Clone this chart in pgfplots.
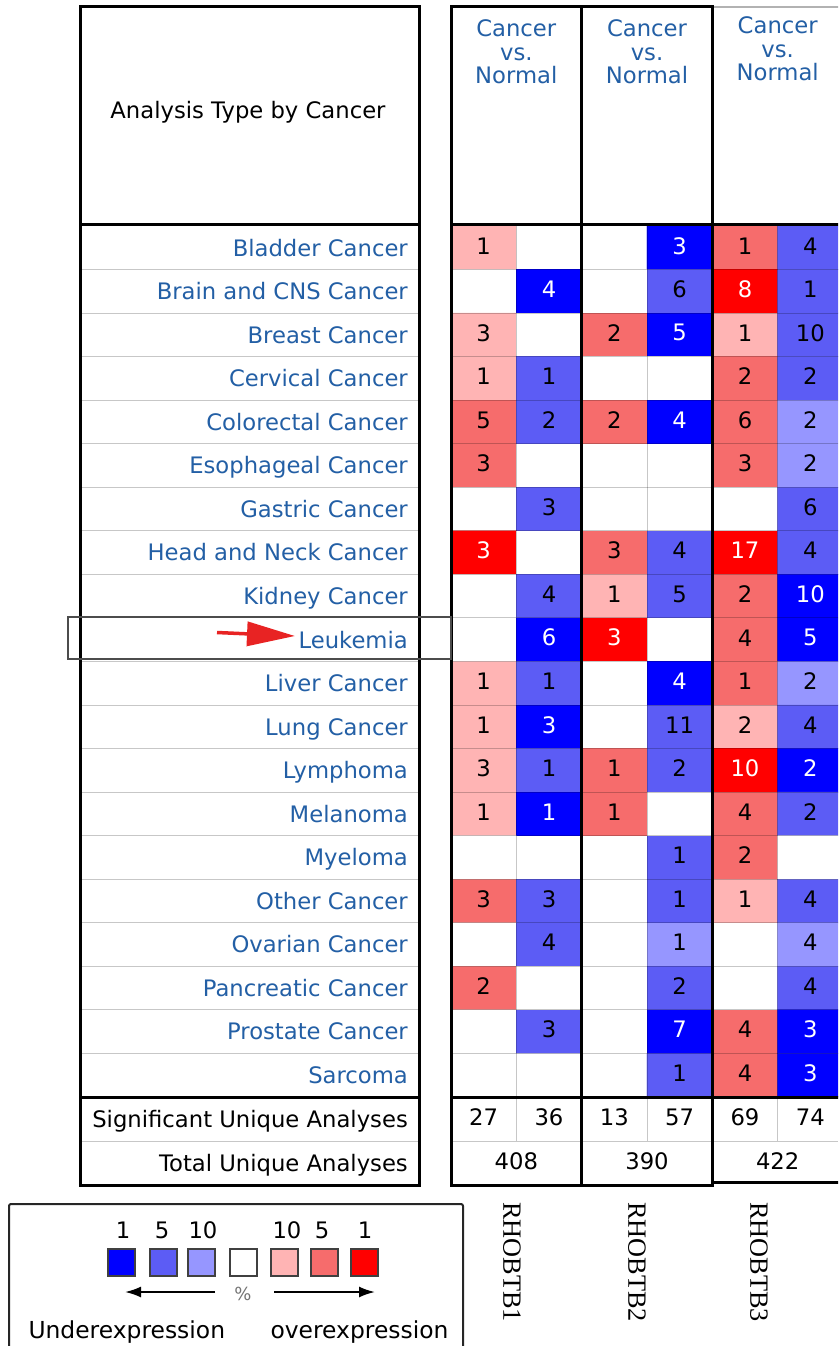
\documentclass[border=0pt]{standalone}
\usepackage{pgfplots}
\pgfplotsset{compat=1.18}
\usepackage{pgfplotstable}
\usepackage{fontspec}
\setmainfont{DejaVu Sans}
\newfontfamily\genefont{Liberation Serif}
\usetikzlibrary{arrows.meta}
\definecolor{dblue}{RGB}{0,0,255}
\definecolor{mblue}{RGB}{92,92,245}
\definecolor{lblue}{RGB}{150,150,255}
\definecolor{lred}{RGB}{255,180,180}
\definecolor{mred}{RGB}{246,108,108}
\definecolor{dred}{RGB}{255,0,0}
\definecolor{linkblue}{RGB}{35,95,165}
\definecolor{arrowred}{RGB}{232,35,35}

% level: 0 dark blue, 1 medium blue, 2 light blue, 3 white, 4 light red, 5 medium red, 6 dark red
\pgfplotstableread{
c r lvl
0 0 4
1 0 3
2 0 3
3 0 0
4 0 5
5 0 1
0 1 3
1 1 0
2 1 3
3 1 1
4 1 6
5 1 1
0 2 4
1 2 3
2 2 5
3 2 0
4 2 4
5 2 1
0 3 4
1 3 1
2 3 3
3 3 3
4 3 5
5 3 1
0 4 5
1 4 1
2 4 5
3 4 0
4 4 5
5 4 2
0 5 5
1 5 3
2 5 3
3 5 3
4 5 5
5 5 2
0 6 3
1 6 1
2 6 3
3 6 3
4 6 3
5 6 1
0 7 6
1 7 3
2 7 5
3 7 1
4 7 6
5 7 1
0 8 3
1 8 1
2 8 4
3 8 1
4 8 5
5 8 0
0 9 3
1 9 0
2 9 6
3 9 3
4 9 5
5 9 0
0 10 4
1 10 1
2 10 3
3 10 0
4 10 5
5 10 2
0 11 4
1 11 0
2 11 3
3 11 1
4 11 4
5 11 1
0 12 4
1 12 1
2 12 5
3 12 1
4 12 6
5 12 0
0 13 4
1 13 0
2 13 5
3 13 3
4 13 5
5 13 1
0 14 3
1 14 3
2 14 3
3 14 1
4 14 5
5 14 3
0 15 5
1 15 1
2 15 3
3 15 1
4 15 4
5 15 1
0 16 3
1 16 1
2 16 3
3 16 2
4 16 3
5 16 2
0 17 5
1 17 3
2 17 3
3 17 1
4 17 3
5 17 1
0 18 3
1 18 1
2 18 3
3 18 0
4 18 5
5 18 0
0 19 3
1 19 3
2 19 3
3 19 1
4 19 5
5 19 0
}\heat

\pgfplotstableread{
c r n
0 0 1
4 0 1
5 0 4
3 1 6
5 1 1
0 2 3
2 2 2
4 2 1
5 2 10
0 3 1
1 3 1
4 3 2
5 3 2
0 4 5
1 4 2
2 4 2
4 4 6
5 4 2
0 5 3
4 5 3
5 5 2
1 6 3
5 6 6
2 7 3
3 7 4
5 7 4
1 8 4
2 8 1
3 8 5
4 8 2
4 9 4
0 10 1
1 10 1
4 10 1
5 10 2
0 11 1
3 11 11
4 11 2
5 11 4
0 12 3
1 12 1
2 12 1
3 12 2
0 13 1
2 13 1
4 13 4
5 13 2
3 14 1
4 14 2
0 15 3
1 15 3
3 15 1
4 15 1
5 15 4
1 16 4
3 16 1
5 16 4
0 17 2
3 17 2
5 17 4
1 18 3
4 18 4
3 19 1
4 19 4
}\numsBlack

\pgfplotstableread{
c r n
3 0 3
1 1 4
4 1 8
3 2 5
3 4 4
0 7 3
4 7 17
5 8 10
1 9 6
2 9 3
5 9 5
3 10 4
1 11 3
4 12 10
5 12 2
1 13 1
3 18 7
5 18 3
5 19 3
}\numsWhite

\pgfplotstableread{
c n
0 27
1 36
2 13
3 57
4 69
5 74
}\sigs

\pgfplotstableread{
x n
516.3 408
647.0 390
777.7 422
}\totals

\begin{document}
\begin{tikzpicture}[font=\fontsize{22.7}{27}\selectfont]
\begin{axis}[
  x=1pt, y=1pt, y dir=reverse,
  xmin=0, xmax=838, ymin=0, ymax=1346,
  axis line style={draw=none},
  tick style={draw=none},
  major tick length=0pt,
  xtick=\empty,
  ytick={247.78,291.33,334.88,378.43,421.98,465.53,509.08,552.63,596.18,639.73,683.28,726.83,770.38,813.93,857.48,901.03,944.58,988.13,1031.68,1075.23},
  yticklabels={Bladder Cancer,Brain and CNS Cancer,Breast Cancer,Cervical Cancer,Colorectal Cancer,Esophageal Cancer,Gastric Cancer,Head and Neck Cancer,Kidney Cancer,Leukemia,Liver Cancer,Lung Cancer,Lymphoma,Melanoma,Myeloma,Other Cancer,Ovarian Cancer,Pancreatic Cancer,Prostate Cancer,Sarcoma},
  yticklabel style={anchor=base east, inner sep=0pt, xshift=408pt, yshift=-8.3pt, text=linkblue},
  extra y ticks={1119,1163},
  extra y tick labels={Significant Unique Analyses,Total Unique Analyses},
  extra y tick style={yticklabel style={text=black}},
  clip=true,
  colormap={onco}{rgb255=(0,0,255) rgb255=(92,92,245) rgb255=(150,150,255) rgb255=(255,255,255) rgb255=(255,180,180) rgb255=(246,108,108) rgb255=(255,0,0)},
  numstyle/.style={only marks, mark=none, point meta=explicit symbolic,
    nodes near coords, nodes near coords align=center,
    every node near coord/.append style={anchor=center, inner sep=0pt, yshift=2pt, font=\fontsize{22.7}{27}\selectfont}},
]
\path (axis cs:0,0) rectangle (axis cs:838,1346);

% heatmap cells
\addplot[matrix plot*, mesh/cols=6, point meta=explicit, colormap access=direct]
  table[x expr=451+65.33*(\thisrow{c}+0.5), y expr=226+43.55*(\thisrow{r}+0.5), meta=lvl] {\heat};

% thin grid lines
\pgfplotsinvokeforeach{1,...,19}{
  \draw[black, opacity=0.22, line width=1pt] (axis cs:80,{226+43.55*#1}) -- (axis cs:419,{226+43.55*#1});
  \draw[black, opacity=0.22, line width=1pt] (axis cs:451,{226+43.55*#1}) -- (axis cs:838,{226+43.55*#1});
}
\pgfplotsinvokeforeach{516.3,647,777.7}{
  \draw[black, opacity=0.22, line width=1pt] (axis cs:#1,226) -- (axis cs:#1,1141);
}
\draw[black, opacity=0.22, line width=1pt] (axis cs:80,1141) -- (axis cs:419,1141);
\draw[black, opacity=0.22, line width=1pt] (axis cs:451,1141) -- (axis cs:838,1141);
\draw[black, opacity=0.3, line width=1.5pt] (axis cs:712.3,7) -- (axis cs:840,7);

% thick borders, left table
\draw[line width=3pt] (axis cs:80,7) rectangle (axis cs:419,224);
\draw[line width=3pt] (axis cs:80,224) rectangle (axis cs:419,1097);
\draw[line width=3pt] (axis cs:80,1097) rectangle (axis cs:419,1185);
% thick borders, right table
\draw[line width=3pt] (axis cs:451,7) -- (axis cs:712.3,7);
\draw[line width=3pt] (axis cs:451,224) -- (axis cs:840,224);
\draw[line width=3pt] (axis cs:451,1097) -- (axis cs:840,1097);
\draw[line width=3pt] (axis cs:451,1185) -- (axis cs:712.3,1185);
\draw[line width=3pt] (axis cs:712.3,1182) -- (axis cs:840,1182);
\draw[line width=3pt] (axis cs:451,5.5) -- (axis cs:451,1186.5);
\draw[line width=3pt] (axis cs:581.7,5.5) -- (axis cs:581.7,1186.5);
\draw[line width=3pt] (axis cs:712.3,5.5) -- (axis cs:712.3,1186.5);

% header texts
\node[anchor=base] at (axis cs:248,118) {Analysis Type by Cancer};
\pgfplotsinvokeforeach{516.3,647}{
  \node[anchor=base, text=linkblue] at (axis cs:#1,36.5) {Cancer};
  \node[anchor=base, text=linkblue] at (axis cs:#1,60) {vs.};
  \node[anchor=base, text=linkblue] at (axis cs:#1,83.5) {Normal};
}
\node[anchor=base, text=linkblue] at (axis cs:777.7,33.5) {Cancer};
\node[anchor=base, text=linkblue] at (axis cs:777.7,57) {vs.};
\node[anchor=base, text=linkblue] at (axis cs:777.7,80.5) {Normal};

% numbers in cells
\addplot[numstyle, every node near coord/.append style={text=black}]
  table[x expr=451+65.33*(\thisrow{c}+0.5), y expr=226+43.55*(\thisrow{r}+0.5), meta=n] {\numsBlack};
\addplot[numstyle, every node near coord/.append style={text=white}]
  table[x expr=451+65.33*(\thisrow{c}+0.5), y expr=226+43.55*(\thisrow{r}+0.5), meta=n] {\numsWhite};
% summary rows
\addplot[numstyle, every node near coord/.append style={text=black}]
  table[x expr=451+65.33*(\thisrow{c}+0.5), y expr=1119, meta=n] {\sigs};
\addplot[numstyle, every node near coord/.append style={text=black}]
  table[x=x, y expr=1163, meta=n] {\totals};

% highlight of Leukemia row
\draw[black!70, line width=1.2pt] (axis cs:68,617) rectangle (axis cs:451,659);
\draw[arrowred, line width=3.5pt, -{Triangle[length=48pt,width=24pt]}] (axis cs:217,632.5) -- (axis cs:295,636);

% legend
\draw[black!85, line width=2pt, rounded corners=2pt] (axis cs:9,1204) rectangle (axis cs:463,1362);
\begingroup
\fontsize{21}{25}\selectfont
\node[anchor=base] at (axis cs:123,1238) {1};
\node[anchor=base] at (axis cs:162,1238) {5};
\node[anchor=base] at (axis cs:203,1238) {10};
\node[anchor=base] at (axis cs:287,1238) {10};
\node[anchor=base] at (axis cs:322,1238) {5};
\node[anchor=base] at (axis cs:365,1238) {1};
\endgroup
\filldraw[fill=dblue, draw=black!75, line width=2pt] (axis cs:108,1249) rectangle (axis cs:135,1276);
\filldraw[fill=mblue, draw=black!75, line width=2pt] (axis cs:150,1249) rectangle (axis cs:177,1276);
\filldraw[fill=lblue, draw=black!75, line width=2pt] (axis cs:188,1249) rectangle (axis cs:215,1276);
\filldraw[fill=white, draw=black!75, line width=2pt] (axis cs:229.5,1249) rectangle (axis cs:256.5,1276);
\filldraw[fill=lred, draw=black!75, line width=2pt] (axis cs:270.5,1249) rectangle (axis cs:297.5,1276);
\filldraw[fill=mred, draw=black!75, line width=2pt] (axis cs:310.5,1249) rectangle (axis cs:337.5,1276);
\filldraw[fill=dred, draw=black!75, line width=2pt] (axis cs:351,1249) rectangle (axis cs:378,1276);
\draw[line width=2pt, -{Latex[length=16pt,width=11pt]}] (axis cs:215,1292) -- (axis cs:125,1292);
\draw[line width=2pt, -{Latex[length=16pt,width=11pt]}] (axis cs:274,1292) -- (axis cs:375,1292);
\node[text=black!55, font=\fontsize{18}{20}\selectfont] at (axis cs:243,1294) {\%};
\node[anchor=base west, font=\fontsize{23.4}{28}\selectfont] at (axis cs:25,1338) {Underexpression};
\node[anchor=base west, font=\fontsize{23.4}{28}\selectfont] at (axis cs:267,1338) {overexpression};

% gene names
\node[rotate=-90, font=\genefont\fontsize{26.3}{30}\selectfont] at (axis cs:512,1262) {RHOBTB1};
\node[rotate=-90, font=\genefont\fontsize{26.3}{30}\selectfont] at (axis cs:637,1262) {RHOBTB2};
\node[rotate=-90, font=\genefont\fontsize{26.3}{30}\selectfont] at (axis cs:759,1262) {RHOBTB3};
\end{axis}
\end{tikzpicture}
\end{document}
